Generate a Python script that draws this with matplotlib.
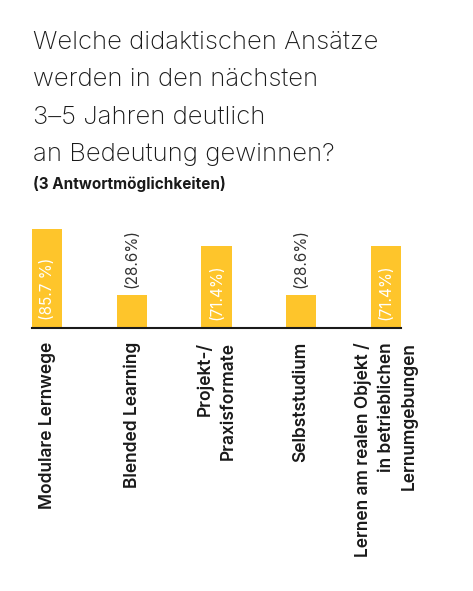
import matplotlib.pyplot as plt
from matplotlib.transforms import blended_transform_factory

# Data
categories = [
    "Modulare Lernwege",
    "Blended Learning",
    "Projekt-/\nPraxisformate",
    "Selbststudium",
    "Lernen am realen Objekt /\nin betrieblichen\nLernumgebungen",
]
values = [85.7, 28.6, 71.4, 28.6, 71.4]
value_labels = ["(85.7 %)", "(28.6%)", "(71.4%)", "(28.6%)", "(71.4%)"]

title = ("Welche didaktischen Ansätze\nwerden in den nächsten\n"
         "3–5 Jahren deutlich\nan Bedeutung gewinnen?")
subtitle = "(3 Antwortmöglichkeiten)"

bar_color = "#FEC52B"
text_color = "#1a1a1a"

plt.rcParams['font.family'] = ['Inter', 'DejaVu Sans']

W, H = 473, 591
fig = plt.figure(figsize=(W / 100, H / 100), dpi=100)

# axes placed in pixel terms: baseline at y=328, bars from x=32 to x=401
ax_left, ax_right = 32, 401
baseline = 328
px_per_unit = 1.155
ax_h = 100 * px_per_unit
ax = fig.add_axes([ax_left / W, (H - baseline) / H,
                   (ax_right - ax_left) / W, ax_h / H])

bar_w = 0.36
x = list(range(len(categories)))
bars = ax.bar(x, values, width=bar_w, color=bar_color, zorder=2)
ax.set_xlim(-bar_w / 2, len(categories) - 1 + bar_w / 2)
ax.set_ylim(0, 100)

for s in ['top', 'right', 'left']:
    ax.spines[s].set_visible(False)
ax.spines['bottom'].set_color(text_color)
ax.spines['bottom'].set_linewidth(1.5)
ax.set_xticks([])
ax.set_yticks([])

# value labels: inside tall bars (white), above short ones (gray)
for xi, v, lab in zip(x, values, value_labels):
    if v > 50:
        ax.annotate(lab, (xi, 0), xytext=(0, 6), textcoords='offset points',
                    rotation=90, ha='center', va='bottom', color='white',
                    fontsize=11)
    else:
        ax.annotate(lab, (xi, v), xytext=(0, 5), textcoords='offset points',
                    rotation=90, ha='center', va='bottom', color='#333333',
                    fontsize=11)

# category labels, rotated, hanging below the baseline
trans = blended_transform_factory(ax.transData, ax.transAxes)
for xi, cat in zip(x, categories):
    ax.annotate(cat, (xi, 0), xycoords=trans, xytext=(0, -10),
                textcoords='offset points', rotation=90, ha='center',
                va='top', multialignment='right', fontsize=12.5,
                fontweight='semibold', color=text_color, linespacing=1.45)

fig.text(33 / W, 1 - 31 / H, title, ha='left', va='top', fontsize=18.5,
         fontweight='light', color=text_color, linespacing=1.79)
fig.text(33 / W, 1 - 176 / H, subtitle, ha='left', va='top', fontsize=11,
         fontweight='bold', color=text_color)

fig.savefig("out.png", dpi=100, facecolor='white')
